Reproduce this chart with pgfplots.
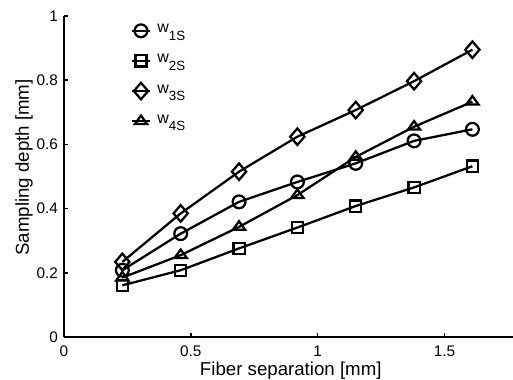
\documentclass[border=0pt]{standalone}
\usepackage{pgfplots}
\pgfplotsset{compat=1.18}
\usepackage{fontspec}
\setmainfont{Liberation Sans}
\newcommand{\wsub}[1]{w\raisebox{-5.5pt}{\fontsize{10pt}{11pt}\selectfont #1}}
\begin{document}
\begin{tikzpicture}
\begin{axis}[
  scale only axis,
  width=336.75pt, height=240.75pt,
  xmin=0, xmax=1.77, ymin=0, ymax=1,
  axis x line*=bottom, axis y line*=left,
  axis line style={line width=1.6pt,-},
  tick align=inside,
  major tick length=3pt,
  tick style={line width=1.2pt, black},
  xtick={0,0.5,1,1.5},
  ytick={0,0.2,0.4,0.6,0.8,1},
  /pgf/number format/assume math mode=true,
  ticklabel style={font=\fontsize{11.5pt}{13pt}\selectfont},
  xticklabel style={yshift=-3pt},
  yticklabel style={xshift=-1pt},
  label style={font=\fontsize{14pt}{16pt}\selectfont},
  xlabel={Fiber separation [mm]},
  ylabel={Sampling depth [mm]},
  xlabel style={at={(axis description cs:0.505,0)}, anchor=base, yshift=-28.5pt},
  ylabel style={at={(axis description cs:0,0.528)}, anchor=center, yshift=30pt},
  clip=false,
  legend cell align=left,
  legend style={draw=none, fill=none, font=\fontsize{12pt}{14pt}\selectfont,
    at={(axis description cs:0.149,0.99)}, anchor=north west,
    inner sep=0pt, row sep=5.6pt, column sep=3pt,
    nodes={inner sep=2pt, text height=8pt, text depth=5pt}},
  legend image code/.code={\draw[mark repeat=2,mark phase=2] plot coordinates {(0pt,0pt) (6.5pt,0pt) (13pt,0pt)};},
]
\addplot[black, line width=1.7pt, mark=o, mark size=4.8pt, mark options={solid}] coordinates {
(0.23,0.208) (0.46,0.322) (0.69,0.421) (0.92,0.483) (1.15,0.541) (1.38,0.611) (1.61,0.647)};
\addlegendentry{\wsub{1S}}
\addplot[black, line width=1.7pt, mark=square, mark size=4.2pt, mark options={solid}] coordinates {
(0.23,0.161) (0.46,0.208) (0.69,0.276) (0.92,0.341) (1.15,0.408) (1.38,0.466) (1.61,0.532)};
\addlegendentry{\wsub{2S}}
\addplot[black, line width=1.7pt, mark=diamond, mark size=6.2pt, mark options={solid, xscale=1.15}] coordinates {
(0.23,0.234) (0.46,0.385) (0.69,0.515) (0.92,0.624) (1.15,0.707) (1.38,0.797) (1.61,0.895)};
\addlegendentry{\wsub{3S}}
\addplot[black, line width=1.7pt, mark=triangle, mark size=5.3pt, mark options={solid, yscale=0.8}] coordinates {
(0.23,0.185) (0.46,0.255) (0.69,0.343) (0.92,0.442) (1.15,0.561) (1.38,0.655) (1.61,0.733)};
\addlegendentry{\wsub{4S}}
\end{axis}
\pgfresetboundingbox
\path[use as bounding box] (-48pt,-31.5pt) rectangle (336.75pt,252.75pt);
\end{tikzpicture}
\end{document}
